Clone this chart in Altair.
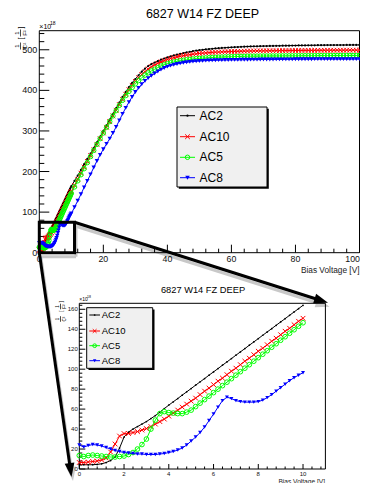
import math
import altair as alt
import pandas as pd

FONT = "Liberation Sans"
W, H = 352, 475

# ---------------- data ----------------
series_names = ["AC2", "AC10", "AC5", "AC8"]
series_colors = ["#000000", "#ff0000", "#00ff00", "#0000ff"]

low_x = [0.0, 0.2, 0.4, 0.6, 0.8, 1.0, 1.2, 1.4, 1.6, 1.8, 2.0, 2.2, 2.4, 2.6, 2.8, 3.0,
         3.2, 3.4, 3.6, 3.8, 4.0, 4.2, 4.4, 4.6, 4.8, 5.0, 5.2, 5.4, 5.6, 5.8, 6.0, 6.2,
         6.4, 6.6, 6.8, 7.0, 7.2, 7.4, 7.6, 7.8, 8.0, 8.2, 8.4, 8.6, 8.8, 9.0, 9.2, 9.4,
         9.6, 9.8, 10.0]

ac2_low = [4.5, 4.3, 4.2, 4.3, 4.6, 5.2, 6.5, 8.5, 12, 21, 32, 37, 40, 42.5, 45, 47.5,
           50.5, 53.5, 57, 60.5, 64, 67.3, 70.6, 74, 77.3, 80.6, 84, 87.3, 90.6, 94, 97.3,
           100.6, 104, 107.3, 110.6, 114, 117.3, 120.6, 124, 127.3, 130.6, 134, 137.3,
           140.6, 144, 147.3, 150.6, 154, 157.3, 160.6, 164]
ac10_low = [6.5, 6.5, 7, 7.5, 8, 9, 11, 17, 25, 33, 35.5, 35.5, 36.5, 37.5, 39, 40.5,
            42.5, 45, 47.5, 50, 53, 56, 59, 62, 65, 68, 71, 74.5, 78, 81, 84.5, 88, 91,
            94.5, 98, 101, 104.5, 108, 111, 114.5, 118, 121, 124.5, 128, 131, 134.5, 138,
            141, 144.5, 148, 151]
ac5_low = [13.5, 12.5, 13.5, 14, 13.5, 13, 12.5, 12, 12, 12.5, 13, 14.5, 16.5, 20, 24.5,
           30, 40, 49, 55.5, 57.5, 56.5, 56, 55.5, 55.5, 57, 59, 62.5, 66, 69.5, 73, 76.5,
           80, 83.5, 87, 90.5, 94, 97.5, 101, 104.5, 108, 111.5, 115, 118.5, 122, 125.5,
           129, 132.5, 136, 139.5, 143, 146.5]
ac8_low = [24, 22, 23.5, 24.5, 24, 23, 21.5, 20, 18.5, 17.5, 16.5, 16, 15.5, 15, 15, 14.5,
           14.5, 14.5, 15, 15.5, 16.5, 17.5, 19, 21, 24, 28, 32, 36.5, 42, 48.5, 55, 62,
           68.5, 72, 70.5, 68.5, 67.5, 67, 67, 67, 67.5, 69, 71.5, 74.5, 78, 81.5, 85,
           88.5, 91.5, 94, 96.5]

high_x = list(range(11, 101))

ac2_high = [177, 190, 204, 218, 231, 244, 258, 272, 286, 300,
            314, 328, 342, 356, 370, 384, 396, 408, 418.5, 428,
            437, 446, 453.5, 460, 464.5, 468.5, 472, 475.5, 478.5, 481,
            483.5, 486, 488, 490, 492, 493.5, 495, 496.5, 498, 499,
            500, 501, 501.8, 502.5, 503.2, 503.8, 504.4, 505, 505.5, 506,
            506.4, 506.8, 507.2, 507.6, 508, 508.2, 508.4, 508.6, 508.8, 509,
            509.2, 509.4, 509.5, 509.7, 509.8, 510, 510.1, 510.2, 510.4, 510.5,
            510.6, 510.7, 510.8, 510.9, 511, 511.1, 511.2, 511.3, 511.4, 511.5,
            511.5, 511.6, 511.6, 511.7, 511.7, 511.8, 511.8, 511.9, 511.9, 512]
ac10_high = [166, 181, 196, 211, 225, 239, 253, 267, 281, 295,
             309, 323, 337, 351, 365, 378, 390.5, 402, 412.5, 422,
             431, 439, 446, 452.5, 458, 462.5, 466.5, 470, 473, 476,
             478.5, 480.5, 482.5, 484, 485.5, 487, 488, 489, 490, 491,
             491.7, 492.4, 493, 493.5, 494, 494.4, 494.8, 495.1, 495.4, 495.7,
             496, 496.2, 496.4, 496.6, 496.8, 497, 497.1, 497.2, 497.3, 497.4,
             497.5, 497.6, 497.7, 497.8, 497.9, 498, 498, 498.1, 498.1, 498.2,
             498.3, 498.3, 498.4, 498.4, 498.5, 498.5, 498.6, 498.6, 498.7, 498.8,
             498.8, 498.8, 498.9, 498.9, 498.9, 499, 499, 499, 499, 499]
ac5_high = [162, 177, 192, 207, 222, 237, 252, 267, 281, 295,
            309, 323, 337, 350, 363, 375.5, 387, 397.5, 407, 416,
            424, 431, 437.5, 443, 448, 452, 456, 460, 463, 466,
            468, 470, 471.5, 473, 474.2, 475.3, 476.3, 477.2, 478, 478.7,
            479.3, 479.9, 480.4, 480.9, 481.3, 481.7, 482.1, 482.4, 482.7, 483,
            483.2, 483.4, 483.6, 483.8, 484, 484.1, 484.2, 484.3, 484.4, 484.5,
            484.6, 484.7, 484.8, 484.8, 484.9, 485, 485, 485.1, 485.1, 485.2,
            485.3, 485.3, 485.4, 485.4, 485.5, 485.5, 485.6, 485.6, 485.7, 485.7,
            485.8, 485.8, 485.8, 485.9, 485.9, 485.9, 486, 486, 486, 486]
ac8_high = [112, 128, 144, 161, 177, 193, 210, 226, 241, 255,
            268, 281, 295, 310, 326, 342, 357, 371, 384, 396,
            406, 415, 423, 430, 436, 441.5, 446.5, 451, 455, 458.5,
            461, 463.2, 465, 466.6, 468, 469.2, 470.2, 471, 471.7, 472.3,
            472.8, 473.2, 473.6, 473.9, 474.2, 474.4, 474.6, 474.8, 474.9, 475,
            475.1, 475.2, 475.3, 475.4, 475.5, 475.6, 475.7, 475.8, 475.9, 476,
            476, 476.1, 476.1, 476.2, 476.2, 476.3, 476.4, 476.4, 476.5, 476.6,
            476.6, 476.7, 476.7, 476.8, 476.8, 476.9, 476.9, 477, 477, 477,
            477, 477, 477, 477, 477, 477, 477, 477, 477, 477]

low_vals = [ac2_low, ac10_low, ac5_low, ac8_low]
high_vals = [ac2_high, ac10_high, ac5_high, ac8_high]

title_text = "6827 W14 FZ DEEP"
x_title = "Bias Voltage [V]"
top_x_labels = [0, 20, 40, 60, 80, 100]
top_y_labels = [0, 100, 200, 300, 400, 500]
bot_x_labels = [0, 2, 4, 6, 8, 10]
bot_y_labels = [0, 20, 40, 60, 80, 100, 120, 140, 160]

# ---------------- layout (pixels inside the chart) ----------------
TX0, TX1, TY0, TY1 = 31.3, 351.5, 244.7, 22.7
BX0, BX1, BY0, BY1 = 71.3, 317.4, 461.0, 295.3

sx_t = alt.Scale(domain=[0, 100], range=[TX0, TX1], nice=False, zero=False)
sy_t = alt.Scale(domain=[0, 547], range=[TY0, TY1], nice=False, zero=False)
sx_b = alt.Scale(domain=[0, 11], range=[BX0, BX1], nice=False, zero=False)
sy_b = alt.Scale(domain=[0, 166], range=[BY0, BY1], nice=False, zero=False)

XPATH = "M-1,-1L1,1M-1,1L1,-1"
HEAD = "M0,0L-2,-0.7L-2,0.7Z"
styles = {
    "AC2": dict(shape="circle", filled=True, sw=1),
    "AC10": dict(shape=XPATH, filled=False, sw=1),
    "AC5": dict(shape="circle", filled=False, sw=1),
    "AC8": dict(shape="triangle-down", filled=True, sw=1),
}
top_sizes = {"AC2": 5, "AC10": 22, "AC5": 20, "AC8": 20}
bot_sizes = {"AC2": 3, "AC10": 22, "AC5": 22, "AC8": 16}

ONE = pd.DataFrame({"k": [0]})


def series_layers(df, sx, sy, name, color, size):
    st = styles[name]
    enc = dict(x=alt.X("x:Q", scale=sx, axis=None), y=alt.Y("y:Q", scale=sy, axis=None))
    line = alt.Chart(df).mark_line(color=color, strokeWidth=1).encode(**enc)
    pts = alt.Chart(df).mark_point(shape=st["shape"], size=size, color=color,
                                   filled=st["filled"], strokeWidth=st["sw"],
                                   opacity=1).encode(**enc)
    return [line, pts]


def yticks(vals, sy, x0, length):
    return alt.Chart(pd.DataFrame({"v": vals})).mark_rule(color="black", strokeWidth=1).encode(
        y=alt.Y("v:Q", scale=sy, axis=None), x=alt.value(x0), x2=alt.value(x0 + length))


def xticks(vals, sx, y0, length):
    return alt.Chart(pd.DataFrame({"v": vals})).mark_rule(color="black", strokeWidth=1).encode(
        x=alt.X("v:Q", scale=sx, axis=None), y=alt.value(y0), y2=alt.value(y0 - length))


def ylabels(vals, sy, x, fs):
    df = pd.DataFrame({"v": vals, "t": [str(v) for v in vals]})
    return alt.Chart(df).mark_text(align="right", baseline="middle", fontSize=fs, font=FONT,
                                   color="#111111").encode(
        y=alt.Y("v:Q", scale=sy, axis=None), x=alt.value(x), text="t:N")


def xlabels(vals, sx, y, fs, align="center", dx=0):
    df = pd.DataFrame({"v": vals, "t": [str(v) for v in vals]})
    return alt.Chart(df).mark_text(align=align, dx=dx, baseline="top", fontSize=fs, font=FONT,
                                   color="#111111").encode(
        x=alt.X("v:Q", scale=sx, axis=None), y=alt.value(y), text="t:N")


def frame(sx, sy, x1, y1):
    df = pd.DataFrame({"a": [0], "b": [x1], "c": [0], "d": [y1]})
    return alt.Chart(df).mark_rect(fillOpacity=0, stroke="black", strokeWidth=1).encode(
        x=alt.X("a:Q", scale=sx, axis=None), x2="b:Q",
        y=alt.Y("c:Q", scale=sy, axis=None), y2="d:Q")


def val_rule(x1, y1, x2, y2, color, width):
    return alt.Chart(ONE).mark_rule(color=color, strokeWidth=width).encode(
        x=alt.value(x1), y=alt.value(y1), x2=alt.value(x2), y2=alt.value(y2))


def val_rect(x1, y1, x2, y2, fill, stroke=None, sw=1):
    kw = dict(fill=fill)
    if stroke:
        kw.update(stroke=stroke, strokeWidth=sw)
    return alt.Chart(ONE).mark_rect(**kw).encode(
        x=alt.value(x1), x2=alt.value(x2), y=alt.value(y1), y2=alt.value(y2))


def val_text(x, y, text, size, align="left", baseline="alphabetic", angle=0, color="black"):
    return alt.Chart(ONE).mark_text(text=text, fontSize=size, font=FONT, align=align,
                                    baseline=baseline, angle=angle, color=color).encode(
        x=alt.value(x), y=alt.value(y))


def val_point(x, y, shape, size, color, filled, sw=1, angle=0):
    return alt.Chart(ONE).mark_point(shape=shape, size=size, color=color, filled=filled,
                                     strokeWidth=sw, angle=angle, opacity=1).encode(
        x=alt.value(x), y=alt.value(y))


def arrow(x0, y0, x1, y1, color, width):
    L = math.hypot(x1 - x0, y1 - y0)
    ux, uy = (x1 - x0) / L, (y1 - y0) / L
    ang = math.degrees(math.atan2(y1 - y0, x1 - x0)) % 360
    return [val_rule(x0, y0, x1 - ux * 9, y1 - uy * 9, color, width),
            val_point(x1, y1, HEAD, 196, color, True, angle=ang)]


# ---------------- top chart ----------------
top_layers = [frame(sx_t, sy_t, 100, 547)]
top_layers.append(yticks(top_y_labels, sy_t, TX0, 10))
top_layers.append(yticks([v for v in range(20, 547, 20) if v % 100], sy_t, TX0, 5))
top_layers.append(xticks(top_x_labels, sx_t, TY0, 8))
top_layers.append(xticks([v for v in range(0, 101, 4) if v % 20], sx_t, TY0, 4))
top_layers.append(ylabels(top_y_labels, sy_t, TX0 - 2, 9))
top_layers.append(xlabels(top_x_labels[:-1], sx_t, TY0 + 2, 8.8))
top_layers.append(xlabels(top_x_labels[-1:], sx_t, TY0 + 2, 8.8, align="right", dx=0.5))
for name, color, lv, hv in zip(series_names, series_colors, low_vals, high_vals):
    df = pd.DataFrame({"x": low_x + high_x, "y": lv + hv})
    top_layers += series_layers(df, sx_t, sy_t, name, color, top_sizes[name])
box_df = pd.DataFrame({"a": [0], "b": [11], "c": [0], "d": [75]})
top_layers.append(alt.Chart(box_df).mark_rect(fillOpacity=0, stroke="black", strokeWidth=3).encode(
    x=alt.X("a:Q", scale=sx_t, axis=None), x2="b:Q",
    y=alt.Y("c:Q", scale=sy_t, axis=None), y2="d:Q"))
top_group = alt.layer(*top_layers)

# ---------------- bottom chart ----------------
bot_layers = [frame(sx_b, sy_b, 11, 166)]
bot_layers.append(yticks(bot_y_labels, sy_b, BX0, 6))
bot_layers.append(yticks([v for v in range(4, 166, 4) if v % 20], sy_b, BX0, 3))
bot_layers.append(xticks(bot_x_labels, sx_b, BY0, 5))
bot_layers.append(xticks([round(i * 0.4, 1) for i in range(0, 28) if i % 5], sx_b, BY0, 2.5))
bot_layers.append(ylabels(bot_y_labels, sy_b, BX0 - 1.5, 6))
bot_layers.append(xlabels(bot_x_labels, sx_b, BY0 + 1.5, 6))
for name, color, lv in zip(series_names, series_colors, low_vals):
    df = pd.DataFrame({"x": low_x, "y": lv})
    bot_layers += series_layers(df, sx_b, sy_b, name, color, bot_sizes[name])
bot_group = alt.layer(*bot_layers)

# ---------------- decorations ----------------
SH = "#c8c8c8"
OX, OY = 1.5, 4
bx_l, bx_r, bx_t, bx_b = 31.3, 66.5, 214.3, 244.7
a1 = (bx_r, bx_t, 320.0, 294.7)
a2 = (bx_l, bx_b, 63.5, 469.0)

shadows = [val_rule(bx_l + OX, bx_b + OY, bx_r + OX, bx_b + OY, SH, 3),
           val_rule(bx_r + OX, bx_t + OY, bx_r + OX, bx_b + OY, SH, 3)]
shadows += arrow(a1[0] + OX, a1[1] + OY, a1[2] + OX, a1[3] + OY, SH, 3)
shadows += arrow(a2[0] + OX, a2[1] + OY, a2[2] + OX, a2[3] + OY, SH, 3)

deco = []
deco.append(val_text(194.5, 10.3, title_text, 12.5, align="center"))
deco.append(val_text(195, 284.7, title_text, 9.3, align="center"))
deco.append(val_text(31.3, 21.3, "×10", 7))
deco.append(val_text(42.0, 17.0, "18", 5))
deco.append(val_text(71.3, 292.7, "×10", 5))
deco.append(val_text(79.0, 290.0, "18", 3.5))
deco.append(val_text(351.5, 265.0, x_title, 8.3, align="right", color="#222222"))
deco.append(val_text(317, 475.5, x_title, 6.6, align="right", color="#222222"))


def ytitle(xn, xb, xd, yl, yu, fs, bar):
    out = []
    out.append(val_text(xn, yl, "1", fs, align="center", baseline="middle", angle=270))
    out.append(val_rule(xb, yl - bar, xb, yl + bar, "black", 0.7))
    out.append(val_text(xd, yl, "C²", fs, align="center", baseline="middle", angle=270))
    out.append(val_text(xn, yu, "1", fs, align="center", baseline="middle", angle=270))
    out.append(val_rule(xb, yu - bar, xb, yu + bar, "black", 0.7))
    out.append(val_text(xd, yu, "F²", fs, align="center", baseline="middle", angle=270))
    out.append(val_text(xb + 0.5, yu + bar + 2, "[", fs + 1, align="center", baseline="middle", angle=270))
    out.append(val_text(xb + 0.5, yu - bar - 2, "]", fs + 1, align="center", baseline="middle", angle=270))
    return out


deco += ytitle(9.0, 12.5, 17.0, 38.0, 25.0, 6, 3.5)
deco += ytitle(49.5, 52.5, 56.5, 311.0, 298.5, 4.5, 2.8)


def legend(x0, y0, x1, y1, rows, lx0, lx1, tx, fs, sizes):
    out = [val_rect(x0 + 1.8, y0 + 1.8, x1 + 1.8, y1 + 1.8, "black"),
           val_rect(x0, y0, x1, y1, "#f0f0f0", "black", 1)]
    for name, color, ry in zip(series_names, series_colors, rows):
        st = styles[name]
        out.append(val_rule(lx0, ry, lx1, ry, color, 1))
        out.append(val_point((lx0 + lx1) / 2, ry, st["shape"], sizes[name], color, st["filled"], st["sw"]))
        out.append(val_text(tx, ry, name, fs, baseline="middle"))
    return out


deco += legend(169, 99, 259, 179, [107.7, 128.7, 149.3, 169.7], 172, 187, 191.5, 12, top_sizes)
deco += legend(78.7, 299.7, 144.7, 360.3, [307.0, 323.0, 337.7, 352.7], 81.3, 92, 93.7, 9.5,
               {"AC2": 3, "AC10": 14, "AC5": 14, "AC8": 12})

arrows = arrow(*a1, "black", 3) + arrow(*a2, "black", 3)

chart = alt.layer(
    *shadows, top_group, bot_group, *deco, *arrows
).resolve_scale(x="independent", y="independent").properties(
    width=W, height=H, autosize=alt.AutoSizeParams(type="none"), padding=0,
    background="white"
).configure_view(stroke=None)

chart.save("out.html", embed_options={"renderer": "svg", "actions": False})
